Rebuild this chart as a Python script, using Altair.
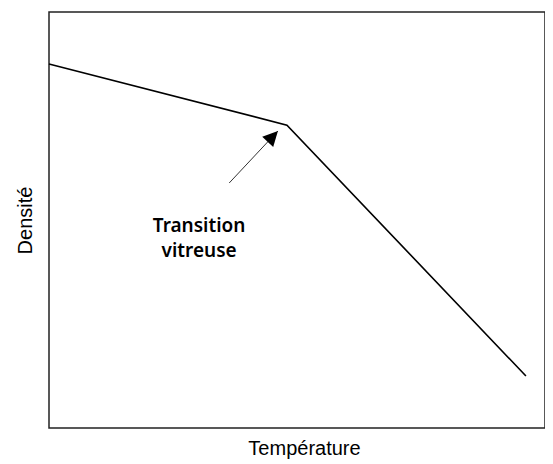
import altair as alt
import pandas as pd

# Main curve (arbitrary units)
temp = [0.0, 47.4, 95.0]
dens = [87.5, 72.8, 12.5]

# Arrow annotation: tail -> tip
arrow_x = [35.9, 45.6]
arrow_y = [58.9, 71.4]
arrow_angle = [43]

# Annotation text
labels = ["Transition", "vitreuse"]
label_x = [29.9, 29.9]
label_y = [47.1, 41.2]

curve = pd.DataFrame({"t": temp, "d": dens})
arrow = pd.DataFrame({"t": arrow_x, "d": arrow_y})
head = pd.DataFrame({"t": [arrow_x[1]], "d": [arrow_y[1]], "a": arrow_angle})
text = pd.DataFrame({"t": label_x, "d": label_y, "lab": labels})

xs = alt.Scale(domain=[0, 98.8], nice=False, zero=False)
ys = alt.Scale(domain=[0, 100], nice=False, zero=False)
xax = alt.Axis(title="Température", labels=False, ticks=False, domain=False, grid=False,
               titleFont="Liberation Sans", titleFontSize=20, titleFontWeight="normal",
               titleColor="black", titlePadding=10, titleX=255)
yax = alt.Axis(title="Densité", labels=False, ticks=False, domain=False, grid=False,
               titleFont="Liberation Sans", titleFontSize=20, titleFontWeight="normal",
               titleColor="black", titlePadding=14)

line = alt.Chart(curve).mark_line(color="black", strokeWidth=1.6).encode(
    x=alt.X("t:Q", scale=xs, axis=xax),
    y=alt.Y("d:Q", scale=ys, axis=yax),
)

shaft = alt.Chart(arrow).mark_line(color="#333333", strokeWidth=1).encode(
    x=alt.X("t:Q", scale=xs), y=alt.Y("d:Q", scale=ys)
)

arrowhead = alt.Chart(head).mark_point(
    shape="M0,0 L0.5,1 L-0.5,1 Z", filled=True, color="black", size=900, opacity=1, strokeWidth=0
).encode(
    x=alt.X("t:Q", scale=xs), y=alt.Y("d:Q", scale=ys), angle=alt.Angle("a:Q", scale=None)
)

txt = alt.Chart(text).mark_text(
    font="Noto Sans", fontSize=19, fontWeight=600, color="black", align="center", baseline="alphabetic"
).encode(
    x=alt.X("t:Q", scale=xs), y=alt.Y("d:Q", scale=ys), text="lab:N"
)

chart = alt.layer(line, shaft, arrowhead, txt).properties(
    width=496, height=416,
    autosize=alt.AutoSizeParams(type="none"),
    padding={"left": 41, "top": 4, "right": 0, "bottom": 36},
    background="white",
).configure_view(stroke="#222222", strokeWidth=1.5)

chart.save("out.html", embed_options={"renderer": "svg", "actions": False})
